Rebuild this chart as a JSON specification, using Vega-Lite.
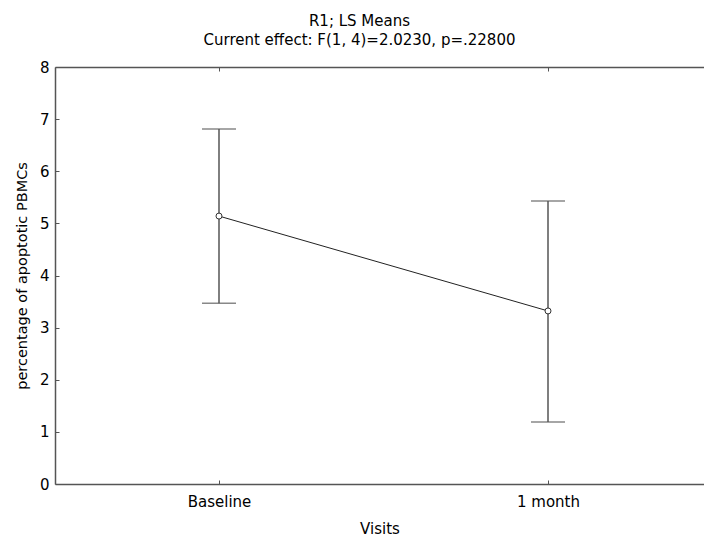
{
  "$schema": "https://vega.github.io/schema/vega-lite/v6.json",
  "width": 649,
  "height": 417,
  "autosize": {"type": "none"},
  "padding": {"left": 55, "top": 67, "right": 0, "bottom": 55},
  "title": {
    "text": ["R1; LS Means", "Current effect: F(1, 4)=2.0230, p=.22800"],
    "font": "DejaVu Sans",
    "fontSize": 15,
    "fontWeight": "normal",
    "color": "#000000",
    "anchor": "middle",
    "frame": "group",
    "dx": -20,
    "offset": 12,
    "lineHeight": 19
  },
  "config": {
    "view": {"stroke": null},
    "axis": {
      "grid": false,
      "domainColor": "#555555",
      "domainWidth": 1.5,
      "tickColor": "#555555",
      "tickSize": -4,
      "labelFont": "DejaVu Sans",
      "labelFontSize": 15,
      "labelColor": "#000000",
      "titleFont": "DejaVu Sans",
      "titleFontSize": 15,
      "titleFontWeight": "normal",
      "titleColor": "#000000"
    }
  },
  "data": {
    "values": [
      {"visit": "Baseline", "mean": 5.14, "lo": 3.47, "hi": 6.81},
      {"visit": "1 month", "mean": 3.32, "lo": 1.19, "hi": 5.43}
    ]
  },
  "layer": [
    {
      "mark": {"type": "errorbar", "color": "#555555", "thickness": 1.5, "ticks": {"size": 34, "color": "#555555", "thickness": 1.5}},
      "encoding": {
        "x": {
          "field": "visit", "type": "nominal", "sort": ["Baseline", "1 month"],
          "scale": {"type": "point", "padding": 0.4863, "align": 0.5125},
          "axis": {"orient": "bottom", "title": "Visits", "labelAngle": 0, "labelPadding": 14, "titlePadding": 12}
        },
        "y": {
          "field": "lo", "type": "quantitative",
          "scale": {"domain": [0, 8], "nice": false, "zero": true},
          "axis": {"title": "percentage of apoptotic PBMCs", "titleFontSize": 14.5, "values": [0, 1, 2, 3, 4, 5, 6, 7, 8], "labelPadding": 10, "titlePadding": 10}
        },
        "y2": {"field": "hi"}
      }
    },
    {
      "mark": {"type": "line", "color": "#222222", "strokeWidth": 1},
      "encoding": {
        "x": {"field": "visit", "type": "nominal", "sort": ["Baseline", "1 month"], "axis": null},
        "y": {"field": "mean", "type": "quantitative"}
      }
    },
    {
      "mark": {"type": "point", "filled": true, "fill": "#ffffff", "stroke": "#333333", "strokeWidth": 1, "size": 36, "opacity": 1},
      "encoding": {
        "x": {"field": "visit", "type": "nominal", "sort": ["Baseline", "1 month"], "axis": null},
        "y": {"field": "mean", "type": "quantitative"}
      }
    },
    {
      "mark": {"type": "point", "opacity": 0},
      "encoding": {
        "x": {
          "field": "visit", "type": "nominal", "sort": ["Baseline", "1 month"],
          "axis": {"orient": "top", "title": null, "labels": false, "tickSize": -4}
        },
        "y": {"field": "mean", "type": "quantitative"}
      }
    }
  ],
  "resolve": {"axis": {"x": "independent"}}
}
